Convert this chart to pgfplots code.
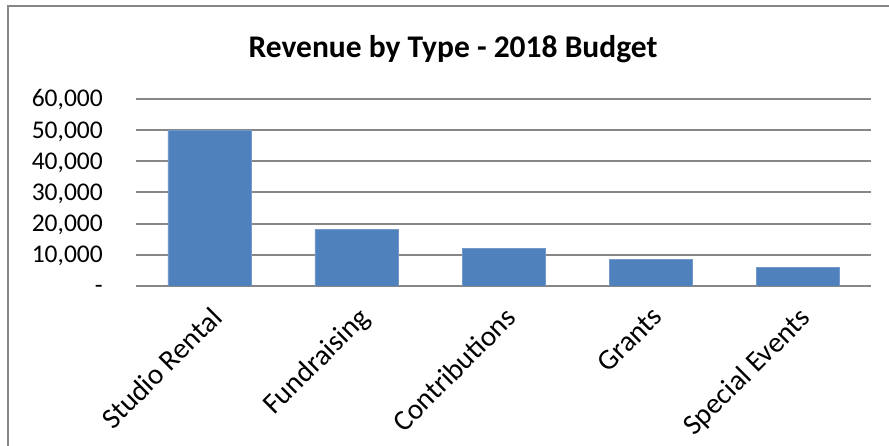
\documentclass[border=0pt]{standalone}
\usepackage{pgfplots}
\pgfplotsset{compat=1.18}
\usepackage{fontspec}
\setmainfont{Carlito}

\definecolor{barblue}{HTML}{4F81BD}
\definecolor{baredge}{HTML}{7398CA}
\definecolor{gridgrey}{HTML}{878787}

\begin{document}
\begin{tikzpicture}[x=1pt,y=1pt]
    \useasboundingbox (0,0) rectangle (889,446);
    % chart frame (only left and top edges are in view)
    \draw[gridgrey, line width=2pt] (8,0) -- (8,439.5) -- (889,439.5);
    \node[anchor=base, inner sep=0pt, font=\fontsize{31.5}{36}\selectfont\bfseries]
        at (453,388.7) {Revenue by Type - 2018 Budget};
    \begin{axis}[
        at={(136pt,160pt)}, anchor=south west,
        scale only axis,
        width=735pt, height=187pt,
        xmin=-0.5, xmax=4.5,
        ymin=0, ymax=60000,
        scaled y ticks=false,
        axis lines*=left,
        axis line style={draw=none},
        major tick length=0pt,
        tick style={draw=none},
        ymajorgrids,
        grid style={gridgrey, line width=2pt},
        xtick={0,1,2,3,4},
        xticklabels={Studio Rental, Fundraising, Contributions, Grants, Special Events},
        xticklabel shift=19pt,
        x tick label style={rotate=45, anchor=north east, inner sep=0pt,
            font=\fontsize{29}{34}\selectfont},
        ytick={0,10000,20000,30000,40000,50000,60000},
        yticklabels={{-\hspace{11pt}},{10,000},{20,000},{30,000},{40,000},{50,000},{60,000}},
        y tick label style={anchor=base east, inner sep=0pt,
            font=\fontsize{25.5}{30}\selectfont, yshift=-8pt, xshift=-33pt},
    ]
    \addplot[ybar, bar width=83pt, fill=barblue, draw=baredge, line width=0.8pt]
        coordinates {(0,50000) (1,18000) (2,12000) (3,8500) (4,6000)};
    \end{axis}
\end{tikzpicture}
\end{document}
